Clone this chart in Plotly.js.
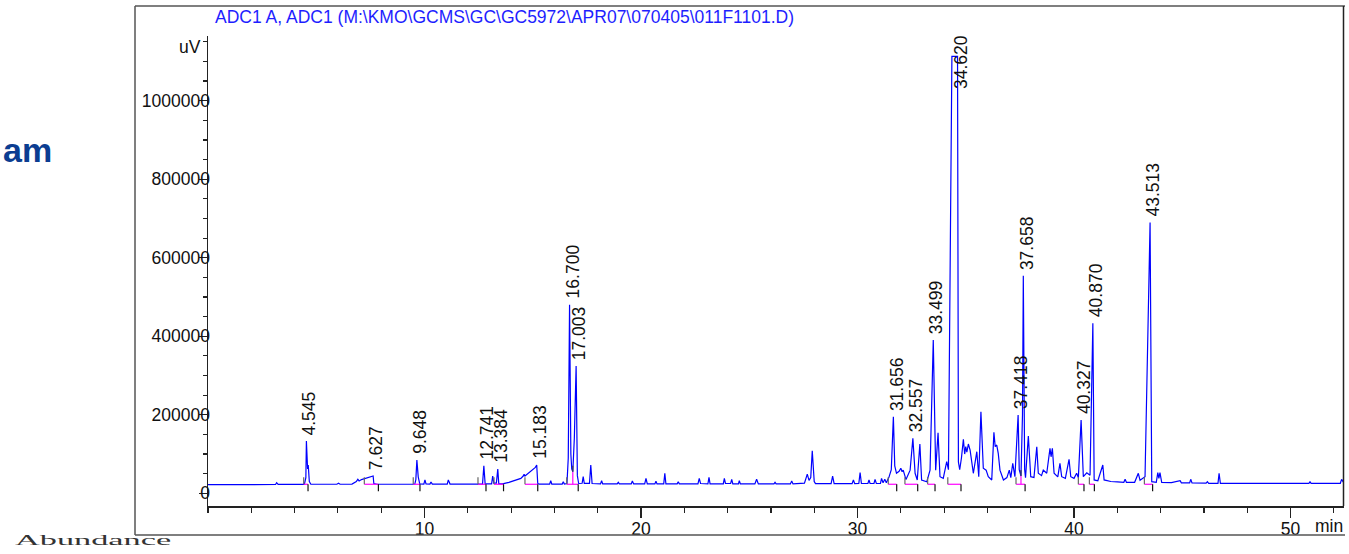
<!DOCTYPE html>
<html>
<head>
<meta charset="utf-8">
<script src="https://cdn.plot.ly/plotly-3.0.1.min.js"></script>
<style>
  html, body { margin: 0; padding: 0; background: #fff; }
  #clip { position: absolute; left: 0; top: 0; width: 1345px; height: 554px; overflow: hidden; }
  #chart { width: 1349px; height: 554px; }
  #abund { position: absolute; left: 15px; top: 533px; font-family: "Liberation Serif", "Times New Roman", serif;
           font-size: 14px; color: #333; transform: scaleX(2.45); transform-origin: 0 0; white-space: nowrap; }
</style>
</head>
<body>
<div id="clip"><div id="chart"></div></div>
<div id="abund">Abundance</div>
<script>
// ---------------- data ----------------
const rt = [
  0.00, 2.90, 3.12, 3.17, 3.24, 4.45, 4.52, 4.545, 4.60, 4.63, 4.68, 4.75, 5.95, 6.03, 6.10, 6.65, 6.85, 6.92, 6.98, 7.09,
  7.30, 7.50, 7.627, 7.66, 7.80, 9.55, 9.60, 9.648, 9.69, 9.71, 9.78, 9.97, 10.02, 10.07, 10.25, 10.30, 10.36, 11.05, 11.10, 11.18,
  12.68, 12.741, 12.80, 13.10, 13.15, 13.20, 13.32, 13.384, 13.43, 13.60, 13.90, 14.20, 14.45, 14.56, 14.60, 14.64, 14.80, 15.00, 15.12, 15.183,
  15.23, 15.30, 15.78, 15.83, 15.88, 16.36, 16.41, 16.46, 16.58, 16.64, 16.70, 16.76, 16.80, 16.85, 16.92, 17.003, 17.06, 17.12, 17.28, 17.33,
  17.38, 17.62, 17.68, 17.74, 18.13, 18.18, 18.23, 18.90, 18.95, 19.00, 19.55, 19.60, 19.66, 20.17, 20.23, 20.29, 20.64, 20.69, 20.74, 21.05,
  21.10, 21.15, 21.67, 21.72, 21.77, 22.63, 22.69, 22.75, 23.09, 23.14, 23.19, 23.80, 23.85, 23.90, 24.14, 24.19, 24.24, 24.50, 24.54, 24.59,
  25.26, 25.34, 25.42, 26.14, 26.19, 26.24, 26.90, 26.96, 27.02, 27.55, 27.68, 27.76, 27.84, 27.91, 27.95, 28.00, 28.06, 28.78, 28.85, 28.92,
  29.75, 29.81, 29.87, 30.06, 30.12, 30.18, 30.48, 30.53, 30.58, 30.76, 30.81, 30.87, 31.06, 31.11, 31.18, 31.26, 31.33, 31.45, 31.56, 31.656,
  31.72, 31.80, 31.92, 32.00, 32.06, 32.11, 32.24, 32.43, 32.557, 32.66, 32.76, 32.88, 32.96, 33.20, 33.35, 33.499, 33.61, 33.72, 33.81, 33.96,
  34.12, 34.20, 34.36, 34.62, 34.66, 34.72, 34.80, 34.89, 34.95, 35.00, 35.05, 35.12, 35.20, 35.35, 35.51, 35.60, 35.70, 35.81, 35.94, 36.04,
  36.20, 36.30, 36.36, 36.43, 36.50, 36.58, 36.74, 36.90, 37.01, 37.08, 37.17, 37.27, 37.418, 37.47, 37.55, 37.62, 37.658, 37.72, 37.76, 37.89,
  38.00, 38.15, 38.28, 38.35, 38.50, 38.58, 38.74, 38.89, 38.94, 39.00, 39.08, 39.25, 39.35, 39.43, 39.60, 39.77, 39.85, 40.00, 40.12, 40.20,
  40.327, 40.43, 40.59, 40.74, 40.870, 40.93, 41.10, 41.33, 41.39, 41.70, 42.00, 42.30, 42.36, 42.42, 42.80, 42.97, 43.05, 43.28, 43.513, 43.59,
  43.80, 43.87, 43.92, 43.97, 44.05, 44.50, 44.90, 44.96, 45.34, 45.39, 45.45, 46.10, 46.16, 46.22, 46.65, 46.70, 46.76, 48.00, 50.85, 50.90,
  50.95, 52.30, 52.36, 52.47
];
const signal = [
  22000, 22000, 22500, 27000, 22500, 22500, 40000, 133000, 62000, 72000, 30000, 23000, 23000, 25500, 23000, 23500, 30000, 35500, 31500, 35000,
  38500, 42000, 44000, 25000, 23000, 23000, 35000, 85000, 45000, 42000, 24000, 23500, 34000, 24000, 23500, 28800, 23500, 23500, 34000, 23500,
  23500, 70300, 24000, 24000, 44000, 26000, 26000, 62000, 24000, 24000, 28000, 33000, 38000, 44000, 48400, 44000, 52000, 60000, 66000, 72000,
  25000, 23500, 23500, 32000, 23500, 23500, 29500, 23500, 25000, 90000, 480000, 100000, 62000, 55000, 140000, 324000, 45000, 25000, 25500, 42300,
  25500, 25500, 72000, 25000, 24000, 32000, 24000, 24000, 28000, 24000, 24000, 31300, 24000, 24000, 38200, 24000, 24000, 30500, 24000, 24000,
  51000, 24000, 24000, 29500, 24000, 24000, 38000, 25000, 24000, 40700, 24000, 24000, 38000, 25000, 25000, 35600, 24000, 24000, 32000, 24000,
  24000, 35600, 24000, 24000, 28000, 24000, 24000, 31300, 24000, 26000, 49000, 33000, 40000, 108500, 65000, 30000, 24500, 24500, 44000, 24500,
  24500, 34000, 24500, 25000, 52500, 25000, 25000, 34000, 25000, 25000, 35600, 25000, 25000, 38000, 27000, 35600, 27000, 40700, 60000, 195000,
  70000, 51000, 56000, 63700, 55000, 59000, 35000, 59000, 140000, 51000, 34000, 125600, 34000, 29500, 59000, 390500, 59000, 154400, 42300, 38000,
  80500, 60000, 1113000, 1113000, 80000, 60000, 90000, 137500, 100000, 118700, 105000, 125600, 110000, 51000, 106000, 42300, 207800, 63700, 59000, 42300,
  34000, 155400, 118700, 123000, 101900, 59000, 34000, 40000, 59000, 40000, 76400, 42300, 199400, 60000, 44000, 200000, 554000, 60000, 40000, 146000,
  42300, 40000, 118700, 51000, 45000, 59000, 51000, 114600, 93000, 114600, 51000, 42000, 76400, 42300, 38000, 86600, 42300, 38000, 51000, 40000,
  186700, 42300, 52000, 46000, 433000, 34000, 32000, 72000, 34000, 30000, 29000, 28000, 35600, 28000, 28000, 51000, 33000, 42000, 690000, 29500,
  28000, 52500, 38000, 52500, 28000, 27000, 32000, 26500, 26500, 35600, 26500, 26000, 29500, 25500, 25500, 51000, 25500, 25500, 25500, 29500,
  25500, 25500, 35600, 26000
];
// labelled peaks (retention times printed on the chart)
const peakLabels = ["4.545", "7.627", "9.648", "12.741", "13.384", "15.183", "16.700", "17.003", "31.656",
                    "32.557", "33.499", "34.620", "37.418", "37.658", "40.327", "40.870", "43.513"];
// integration windows (start, end) in minutes
const intStart = [4.42, 7.22, 9.48, 12.47, 13.21, 14.64, 16.57, 31.42, 32.19, 33.24, 34.17, 37.32, 40.20, 40.71, 43.25];
const intEnd   = [4.62, 7.87, 9.79, 12.84, 13.65, 15.23, 17.10, 31.81, 32.78, 33.58, 34.78, 37.74, 40.46, 40.94, 43.63];
const splitRT    = [16.85, 37.55];
const splitValue = [55000, 44000];
const intLevel = 23000;
const xTicks = [10, 20, 30, 40, 50];
const yTicks = [0, 200000, 400000, 600000, 800000, 1000000];

// ---------------- geometry / scales ----------------
const M = {l: 208, r: 5, t: 36, b: 48};
const W = 1349, H = 554;
const plotH = H - M.t - M.b;
const xRange = [0, 52.47];
const yRange = [-32350, 1164800];
const FONT = "Arial, 'Liberation Sans', sans-serif";

function apexOf(t) {
  let best = -Infinity;
  for (let i = 0; i < rt.length; i++) {
    if (Math.abs(rt[i] - t) <= 0.06 && signal[i] > best) best = signal[i];
  }
  return best;
}

const traces = [];
traces.push({
  x: rt, y: signal, type: 'scatter', mode: 'lines',
  line: {color: '#0000ff', width: 1.2}, hoverinfo: 'skip', showlegend: false
});

// integration baselines (magenta)
const mx = [], my = [];
for (let i = 0; i < intStart.length; i++) {
  mx.push(intStart[i], intEnd[i], null);
  my.push(intLevel, intLevel, null);
}
for (let i = 0; i < splitRT.length; i++) {
  mx.push(splitRT[i], splitRT[i], null);
  my.push(intLevel, splitValue[i], null);
}
traces.push({
  x: mx, y: my, type: 'scatter', mode: 'lines',
  line: {color: '#ff00ff', width: 1.2}, hoverinfo: 'skip', showlegend: false
});

const shapes = [];
for (let i = 0; i < intStart.length; i++) {
  shapes.push({type: 'line', xref: 'x', yref: 'y', ysizemode: 'pixel', yanchor: intLevel,
               x0: intStart[i], x1: intStart[i], y0: 0, y1: 7, line: {color: '#666', width: 1.2}});
  shapes.push({type: 'line', xref: 'x', yref: 'y', ysizemode: 'pixel', yanchor: intLevel,
               x0: intEnd[i], x1: intEnd[i], y0: -7, y1: 0, line: {color: '#111', width: 1.2}});
}
for (let i = 0; i < splitRT.length; i++) {
  shapes.push({type: 'line', xref: 'x', yref: 'y', ysizemode: 'pixel', yanchor: splitValue[i],
               x0: splitRT[i], x1: splitRT[i], y0: 0, y1: 6, line: {color: '#444', width: 1.2}});
}
// outer frame
const px2x = p => (p - M.l) / (W - M.l - M.r);
const py2y = p => (H - M.b - p) / plotH;
const frame = {color: '#555', width: 1.5};
shapes.push({type: 'line', xref: 'paper', yref: 'paper', x0: px2x(135), x1: px2x(1345), y0: py2y(6), y1: py2y(6), line: frame});
shapes.push({type: 'line', xref: 'paper', yref: 'paper', x0: px2x(135), x1: px2x(1345), y0: py2y(535), y1: py2y(535), line: frame});
shapes.push({type: 'line', xref: 'paper', yref: 'paper', x0: px2x(135), x1: px2x(135), y0: py2y(6), y1: py2y(535), line: frame});
shapes.push({type: 'line', xref: 'paper', yref: 'paper', x0: px2x(1343.5), x1: px2x(1343.5), y0: py2y(6), y1: py2y(506), line: {color: '#222', width: 1.5}});

// peak labels
const annotations = [];
const fs = 17.5;
peakLabels.forEach(lbl => {
  const t = parseFloat(lbl);
  const v = apexOf(t);
  const yPix = M.t + (yRange[1] - v) / (yRange[1] - yRange[0]) * plotH;
  const L = ((lbl.length - 1) * 0.556 + 0.278) * fs;
  let ysh = 5;
  if (yPix - 5 - L < M.t + 1) ysh = yPix - (M.t + 1 + L);
  annotations.push({
    x: t, y: v, xref: 'x', yref: 'y', text: lbl, showarrow: false, textangle: -90,
    xanchor: 'center', yanchor: 'bottom', xshift: 3, yshift: ysh,
    font: {family: FONT, size: fs, color: '#111'}, borderpad: 0
  });
});
annotations.push({xref: 'paper', yref: 'paper', x: px2x(213), y: py2y(17), xanchor: 'left', yanchor: 'middle',
  text: 'ADC1 A, ADC1 (M:\\KMO\\GCMS\\GC\\GC5972\\APR07\\070405\\011F1101.D)', showarrow: false,
  font: {family: FONT, size: 17.5, color: 'rgb(30,30,255)'}});
annotations.push({xref: 'paper', yref: 'paper', x: px2x(203), y: py2y(47), xanchor: 'right', yanchor: 'middle',
  text: 'uV', showarrow: false, font: {family: FONT, size: 17.5, color: '#111'}});
annotations.push({xref: 'paper', yref: 'paper', x: px2x(1344), y: py2y(526), xanchor: 'right', yanchor: 'middle',
  text: 'min', showarrow: false, font: {family: FONT, size: 17.5, color: '#111'}, borderpad: 0});
annotations.push({xref: 'paper', yref: 'paper', x: px2x(53), y: py2y(150), xanchor: 'right', yanchor: 'middle',
  text: '<b>am</b>', showarrow: false, font: {family: FONT, size: 34, color: '#0b3d91'}, borderpad: 0});

const layout = {
  width: W, height: H,
  margin: M,
  paper_bgcolor: '#fff', plot_bgcolor: '#fff',
  showlegend: false,
  font: {family: FONT, size: 17.5, color: '#111'},
  xaxis: {
    range: xRange, showgrid: false, zeroline: false, showline: true, linecolor: '#222', linewidth: 1.5,
    ticks: 'outside', ticklen: 10, tickwidth: 1.2, tickcolor: '#222',
    tickvals: xTicks, ticktext: xTicks.map(String),
    ticklabelstandoff: -4,
    tickfont: {family: FONT, size: 17.5, color: '#111'},
    minor: {dtick: 2, tick0: 0, ticks: 'outside', ticklen: 5, tickwidth: 1.2, tickcolor: '#222', showgrid: false}
  },
  yaxis: {
    range: yRange, showgrid: false, zeroline: false, showline: true, linecolor: '#222', linewidth: 1.5,
    ticks: 'outside', ticklen: 8, tickwidth: 1.2, tickcolor: '#222',
    tickvals: yTicks, ticktext: yTicks.map(String),
    ticklabelstandoff: -15,
    tickfont: {family: FONT, size: 17.5, color: '#111'},
    minor: {dtick: 50000, tick0: 0, ticks: 'outside', ticklen: 4, tickwidth: 1.2, tickcolor: '#222', showgrid: false}
  },
  shapes: shapes,
  annotations: annotations
};

Plotly.newPlot('chart', traces, layout, {staticPlot: true, displayModeBar: false});
</script>
</body>
</html>
